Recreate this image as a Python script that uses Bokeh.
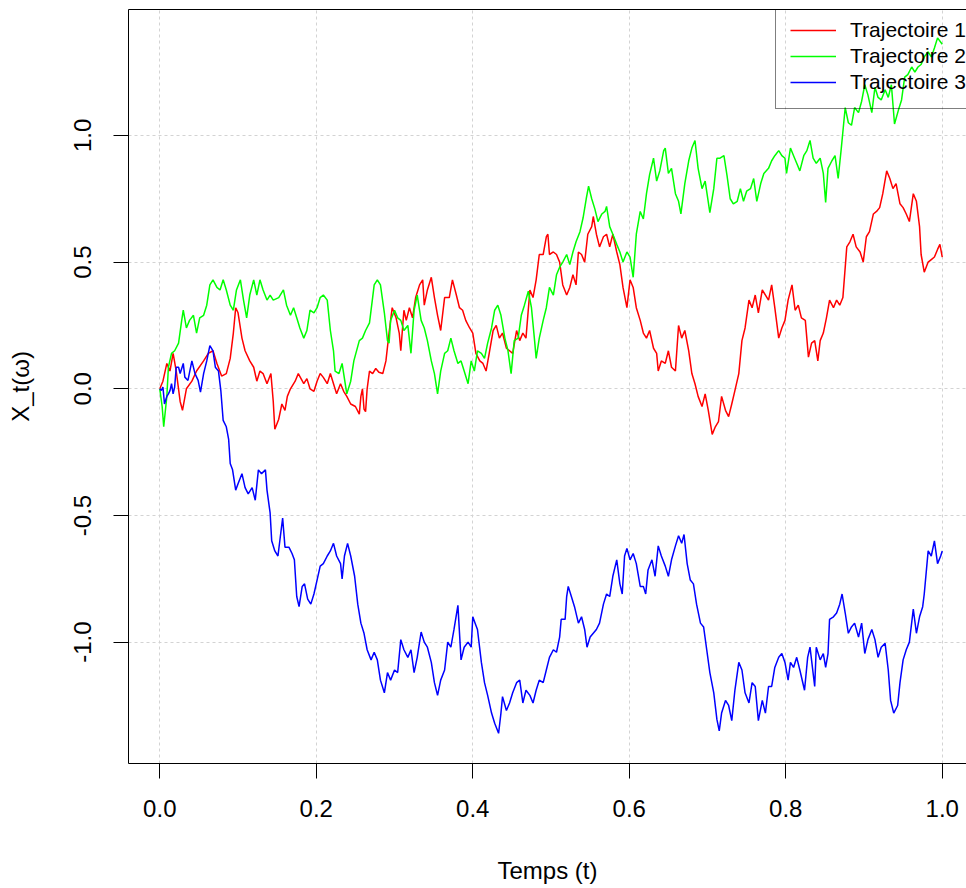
from bokeh.plotting import figure
from bokeh.models import (Range1d, FixedTicker, PrintfTickFormatter, LinearAxis,
                          Legend, LegendItem)
from bokeh.embed import file_html
from bokeh.resources import INLINE

# ---------------- data ----------------
series_names = ["Trajectoire 1", "Trajectoire 2", "Trajectoire 3"]
series_colors = ["#FF0000", "#00FF00", "#0000FF"]

t_1 = [0.000, 0.004, 0.009, 0.013, 0.017, 0.021, 0.026, 0.029, 0.034, 0.041, 0.047, 0.056,
       0.062, 0.068, 0.073, 0.079, 0.085, 0.090, 0.094, 0.097, 0.100, 0.105, 0.109, 0.115,
       0.120, 0.124, 0.128, 0.132, 0.137, 0.142, 0.145, 0.147, 0.152, 0.156, 0.160, 0.163,
       0.167, 0.173, 0.177, 0.184, 0.188, 0.192, 0.197, 0.201, 0.205, 0.209, 0.214, 0.218,
       0.222, 0.226, 0.231, 0.235, 0.239, 0.244, 0.250, 0.255, 0.257, 0.259, 0.261, 0.263,
       0.265, 0.268, 0.272, 0.276, 0.280, 0.285, 0.289, 0.293, 0.297, 0.302, 0.306, 0.308,
       0.312, 0.315, 0.319, 0.323, 0.327, 0.332, 0.336, 0.338, 0.342, 0.347, 0.351, 0.355,
       0.359, 0.364, 0.370, 0.374, 0.379, 0.383, 0.387, 0.391, 0.396, 0.400, 0.404, 0.409,
       0.413, 0.417, 0.421, 0.426, 0.430, 0.434, 0.438, 0.443, 0.447, 0.451, 0.456, 0.460,
       0.464, 0.468, 0.473, 0.477, 0.481, 0.485, 0.490, 0.494, 0.496, 0.498, 0.503, 0.507,
       0.511, 0.515, 0.520, 0.524, 0.528, 0.532, 0.535, 0.539, 0.543, 0.547, 0.552, 0.554,
       0.558, 0.562, 0.567, 0.571, 0.575, 0.579, 0.584, 0.588, 0.592, 0.597, 0.601, 0.605,
       0.609, 0.614, 0.618, 0.622, 0.626, 0.631, 0.635, 0.637, 0.641, 0.646, 0.650, 0.654,
       0.659, 0.663, 0.667, 0.671, 0.676, 0.680, 0.684, 0.688, 0.693, 0.697, 0.701, 0.706,
       0.710, 0.714, 0.718, 0.723, 0.727, 0.731, 0.735, 0.740, 0.744, 0.748, 0.753, 0.757,
       0.761, 0.765, 0.770, 0.778, 0.782, 0.786, 0.791, 0.795, 0.799, 0.803, 0.808, 0.812,
       0.816, 0.820, 0.825, 0.829, 0.833, 0.837, 0.841, 0.844, 0.848, 0.852, 0.856, 0.861,
       0.865, 0.869, 0.873, 0.878, 0.882, 0.886, 0.890, 0.895, 0.899, 0.903, 0.907, 0.912,
       0.916, 0.920, 0.924, 0.929, 0.933, 0.937, 0.941, 0.946, 0.950, 0.954, 0.958, 0.963,
       0.967, 0.971, 0.973, 0.977, 0.982, 0.986, 0.990, 0.994, 0.997, 1.000]
x_1 = [0.000, 0.030, 0.100, 0.070, 0.140, 0.070, -0.050, -0.085, 0.000, 0.030, 0.070, 0.110,
       0.140, 0.150, 0.100, 0.050, 0.060, 0.120, 0.220, 0.320, 0.300, 0.200, 0.150, 0.110,
       0.085, 0.030, 0.070, 0.060, 0.020, 0.060, -0.050, -0.160, -0.120, -0.060, -0.085, -0.030,
       0.000, 0.030, 0.060, 0.020, 0.040, 0.000, -0.010, 0.030, 0.060, 0.045, 0.020, 0.060,
       0.020, -0.020, 0.020, -0.010, -0.030, -0.060, -0.070, -0.100, -0.030, 0.000, -0.080, -0.090,
       0.000, 0.070, 0.060, 0.080, 0.065, 0.060, 0.110, 0.220, 0.320, 0.280, 0.220, 0.150,
       0.310, 0.270, 0.320, 0.280, 0.360, 0.410, 0.430, 0.330, 0.390, 0.440, 0.360, 0.290,
       0.230, 0.360, 0.360, 0.430, 0.370, 0.320, 0.310, 0.270, 0.240, 0.220, 0.140, 0.110,
       0.100, 0.070, 0.140, 0.230, 0.250, 0.200, 0.220, 0.160, 0.150, 0.140, 0.230, 0.190,
       0.220, 0.200, 0.390, 0.360, 0.430, 0.530, 0.530, 0.600, 0.610, 0.530, 0.540, 0.530,
       0.500, 0.410, 0.370, 0.400, 0.450, 0.410, 0.540, 0.530, 0.500, 0.610, 0.640, 0.680,
       0.610, 0.560, 0.600, 0.610, 0.560, 0.610, 0.540, 0.490, 0.400, 0.320, 0.430, 0.400,
       0.320, 0.270, 0.220, 0.200, 0.230, 0.160, 0.140, 0.070, 0.110, 0.100, 0.150, 0.085,
       0.070, 0.250, 0.200, 0.230, 0.150, 0.060, 0.020, -0.030, -0.070, -0.020, -0.085, -0.180,
       -0.150, -0.130, -0.030, -0.085, -0.110, -0.060, -0.007, 0.060, 0.190, 0.240, 0.350, 0.320,
       0.370, 0.300, 0.390, 0.350, 0.410, 0.320, 0.200, 0.240, 0.270, 0.350, 0.410, 0.310,
       0.330, 0.280, 0.270, 0.125, 0.180, 0.190, 0.110, 0.190, 0.220, 0.280, 0.350, 0.320,
       0.350, 0.330, 0.360, 0.560, 0.580, 0.610, 0.560, 0.540, 0.500, 0.600, 0.620, 0.690,
       0.700, 0.715, 0.770, 0.860, 0.830, 0.790, 0.810, 0.730, 0.715, 0.690, 0.660, 0.770,
       0.740, 0.640, 0.530, 0.460, 0.500, 0.510, 0.520, 0.550, 0.570, 0.520]

t_2 = [0.000, 0.003, 0.005, 0.009, 0.011, 0.015, 0.019, 0.024, 0.028, 0.030, 0.034, 0.038,
       0.043, 0.047, 0.051, 0.056, 0.060, 0.064, 0.068, 0.073, 0.077, 0.081, 0.085, 0.090,
       0.094, 0.098, 0.103, 0.107, 0.111, 0.115, 0.120, 0.124, 0.128, 0.132, 0.137, 0.141,
       0.145, 0.152, 0.158, 0.162, 0.167, 0.171, 0.175, 0.179, 0.184, 0.188, 0.192, 0.197,
       0.201, 0.205, 0.209, 0.214, 0.218, 0.222, 0.224, 0.229, 0.233, 0.235, 0.239, 0.244,
       0.248, 0.255, 0.259, 0.263, 0.268, 0.272, 0.274, 0.278, 0.282, 0.287, 0.291, 0.293,
       0.295, 0.300, 0.304, 0.308, 0.312, 0.317, 0.321, 0.325, 0.329, 0.334, 0.338, 0.342,
       0.347, 0.351, 0.355, 0.359, 0.364, 0.368, 0.372, 0.376, 0.381, 0.385, 0.389, 0.394,
       0.398, 0.402, 0.406, 0.411, 0.415, 0.419, 0.424, 0.428, 0.432, 0.436, 0.441, 0.445,
       0.449, 0.453, 0.458, 0.462, 0.466, 0.471, 0.475, 0.479, 0.481, 0.485, 0.490, 0.494,
       0.498, 0.503, 0.507, 0.511, 0.515, 0.520, 0.524, 0.528, 0.532, 0.537, 0.541, 0.545,
       0.548, 0.552, 0.556, 0.560, 0.565, 0.569, 0.571, 0.575, 0.579, 0.584, 0.588, 0.592,
       0.597, 0.601, 0.605, 0.609, 0.614, 0.618, 0.622, 0.626, 0.631, 0.635, 0.639, 0.644,
       0.646, 0.650, 0.654, 0.659, 0.663, 0.666, 0.671, 0.676, 0.680, 0.684, 0.688, 0.693,
       0.697, 0.703, 0.708, 0.712, 0.716, 0.721, 0.725, 0.729, 0.733, 0.738, 0.742, 0.746,
       0.750, 0.755, 0.759, 0.763, 0.768, 0.772, 0.778, 0.782, 0.786, 0.791, 0.795, 0.799,
       0.801, 0.806, 0.810, 0.814, 0.818, 0.823, 0.827, 0.831, 0.835, 0.839, 0.844, 0.848,
       0.851, 0.854, 0.859, 0.863, 0.867, 0.871, 0.876, 0.880, 0.884, 0.888, 0.893, 0.897,
       0.901, 0.905, 0.910, 0.914, 0.918, 0.922, 0.927, 0.931, 0.935, 0.939, 0.944, 0.948,
       0.952, 0.956, 0.961, 0.965, 0.969, 0.973, 0.977, 0.982, 0.986, 0.990, 0.994, 1.000]
x_2 = [0.000, -0.070, -0.150, -0.030, 0.085, 0.140, 0.150, 0.180, 0.270, 0.310, 0.240, 0.270,
       0.290, 0.220, 0.280, 0.290, 0.330, 0.410, 0.430, 0.400, 0.390, 0.430, 0.390, 0.330,
       0.310, 0.390, 0.430, 0.350, 0.280, 0.370, 0.430, 0.370, 0.430, 0.390, 0.350, 0.370,
       0.350, 0.360, 0.390, 0.330, 0.290, 0.320, 0.280, 0.240, 0.200, 0.230, 0.310, 0.300,
       0.320, 0.360, 0.370, 0.350, 0.230, 0.150, 0.070, 0.060, 0.100, 0.060, -0.020, 0.030,
       0.110, 0.190, 0.200, 0.230, 0.260, 0.360, 0.410, 0.430, 0.410, 0.300, 0.190, 0.180,
       0.270, 0.310, 0.280, 0.270, 0.230, 0.250, 0.140, 0.310, 0.370, 0.270, 0.240, 0.190,
       0.110, 0.060, -0.020, 0.070, 0.140, 0.150, 0.200, 0.150, 0.100, 0.110, 0.070, 0.020,
       0.110, 0.070, 0.150, 0.140, 0.120, 0.180, 0.240, 0.310, 0.330, 0.290, 0.200, 0.150,
       0.060, 0.190, 0.200, 0.290, 0.330, 0.385, 0.320, 0.190, 0.120, 0.200, 0.270, 0.320,
       0.400, 0.370, 0.450, 0.480, 0.500, 0.530, 0.490, 0.540, 0.580, 0.620, 0.675, 0.750,
       0.800, 0.750, 0.710, 0.660, 0.690, 0.700, 0.720, 0.640, 0.610, 0.570, 0.540, 0.500,
       0.540, 0.520, 0.440, 0.610, 0.700, 0.670, 0.770, 0.845, 0.910, 0.820, 0.860, 0.940,
       0.950, 0.850, 0.870, 0.770, 0.740, 0.690, 0.810, 0.900, 0.950, 0.980, 0.870, 0.790,
       0.820, 0.695, 0.790, 0.910, 0.910, 0.920, 0.840, 0.750, 0.730, 0.740, 0.790, 0.740,
       0.780, 0.790, 0.830, 0.740, 0.810, 0.850, 0.870, 0.900, 0.920, 0.940, 0.920, 0.910,
       0.850, 0.950, 0.920, 0.890, 0.860, 0.920, 0.940, 0.980, 0.910, 0.890, 0.910, 0.850,
       0.735, 0.870, 0.900, 0.920, 0.830, 0.950, 1.110, 1.050, 1.040, 1.110, 1.090, 1.135,
       1.200, 1.160, 1.090, 1.190, 1.150, 1.140, 1.180, 1.150, 1.200, 1.045, 1.100, 1.140,
       1.230, 1.240, 1.270, 1.250, 1.270, 1.280, 1.310, 1.330, 1.310, 1.345, 1.385, 1.360]

t_3 = [0.000, 0.002, 0.004, 0.006, 0.009, 0.011, 0.013, 0.015, 0.017, 0.019, 0.021, 0.024,
       0.026, 0.030, 0.032, 0.036, 0.041, 0.045, 0.049, 0.052, 0.056, 0.060, 0.064, 0.068,
       0.071, 0.075, 0.078, 0.081, 0.085, 0.088, 0.090, 0.093, 0.097, 0.100, 0.105, 0.109,
       0.113, 0.118, 0.122, 0.126, 0.130, 0.135, 0.137, 0.141, 0.143, 0.147, 0.151, 0.154,
       0.157, 0.160, 0.165, 0.169, 0.172, 0.175, 0.178, 0.182, 0.185, 0.189, 0.193, 0.197,
       0.201, 0.205, 0.209, 0.214, 0.218, 0.222, 0.226, 0.231, 0.233, 0.236, 0.240, 0.244,
       0.249, 0.253, 0.257, 0.261, 0.265, 0.270, 0.274, 0.278, 0.282, 0.287, 0.291, 0.295,
       0.300, 0.304, 0.308, 0.312, 0.317, 0.321, 0.325, 0.329, 0.334, 0.338, 0.342, 0.347,
       0.351, 0.355, 0.359, 0.364, 0.368, 0.372, 0.376, 0.381, 0.385, 0.389, 0.394, 0.398,
       0.400, 0.403, 0.406, 0.411, 0.415, 0.419, 0.424, 0.428, 0.433, 0.436, 0.438, 0.443,
       0.447, 0.451, 0.456, 0.460, 0.464, 0.468, 0.473, 0.477, 0.481, 0.485, 0.490, 0.494,
       0.498, 0.503, 0.507, 0.511, 0.513, 0.518, 0.520, 0.522, 0.526, 0.530, 0.535, 0.539,
       0.543, 0.546, 0.550, 0.554, 0.558, 0.562, 0.567, 0.571, 0.575, 0.579, 0.584, 0.588,
       0.591, 0.594, 0.597, 0.601, 0.605, 0.609, 0.614, 0.618, 0.621, 0.624, 0.629, 0.633,
       0.637, 0.641, 0.646, 0.650, 0.654, 0.659, 0.663, 0.667, 0.670, 0.674, 0.678, 0.682,
       0.686, 0.691, 0.695, 0.699, 0.703, 0.708, 0.712, 0.715, 0.718, 0.723, 0.727, 0.731,
       0.735, 0.740, 0.744, 0.748, 0.753, 0.757, 0.761, 0.765, 0.770, 0.774, 0.778, 0.782,
       0.786, 0.791, 0.795, 0.799, 0.803, 0.806, 0.810, 0.814, 0.818, 0.824, 0.828, 0.831,
       0.837, 0.839, 0.844, 0.848, 0.851, 0.854, 0.856, 0.861, 0.865, 0.869, 0.872, 0.876,
       0.880, 0.884, 0.888, 0.893, 0.897, 0.901, 0.905, 0.910, 0.914, 0.918, 0.922, 0.927,
       0.931, 0.934, 0.938, 0.943, 0.946, 0.950, 0.954, 0.958, 0.963, 0.967, 0.971, 0.975,
       0.977, 0.982, 0.986, 0.990, 0.994, 0.998, 1.000]
x_3 = [0.000, -0.007, 0.007, -0.060, -0.030, -0.020, -0.007, 0.020, -0.020, 0.007, 0.085, 0.085,
       0.060, 0.100, 0.046, 0.033, 0.110, 0.060, 0.033, -0.013, 0.060, 0.110, 0.170, 0.150,
       0.085, 0.070, -0.007, -0.125, -0.150, -0.200, -0.295, -0.320, -0.400, -0.375, -0.335, -0.390,
       -0.415, -0.390, -0.440, -0.320, -0.335, -0.320, -0.400, -0.490, -0.600, -0.640, -0.660, -0.585,
       -0.510, -0.625, -0.625, -0.650, -0.675, -0.820, -0.860, -0.780, -0.770, -0.830, -0.850, -0.810,
       -0.755, -0.700, -0.690, -0.660, -0.640, -0.610, -0.660, -0.690, -0.750, -0.660, -0.610, -0.660,
       -0.740, -0.850, -0.925, -0.965, -1.030, -1.070, -1.040, -1.070, -1.150, -1.200, -1.120, -1.150,
       -1.110, -1.120, -0.990, -1.030, -1.060, -1.030, -1.120, -1.060, -0.960, -1.000, -1.020, -1.080,
       -1.160, -1.210, -1.150, -1.110, -1.000, -1.020, -0.950, -0.855, -1.070, -1.020, -1.000, -1.020,
       -0.900, -0.925, -0.950, -1.080, -1.160, -1.210, -1.280, -1.320, -1.360, -1.280, -1.215, -1.270,
       -1.240, -1.200, -1.160, -1.150, -1.240, -1.190, -1.210, -1.240, -1.190, -1.150, -1.160, -1.110,
       -1.060, -1.030, -1.040, -0.980, -0.910, -0.910, -0.820, -0.780, -0.820, -0.860, -0.925, -0.900,
       -0.950, -1.020, -0.980, -0.965, -0.950, -0.925, -0.850, -0.810, -0.820, -0.740, -0.675, -0.770,
       -0.810, -0.660, -0.630, -0.675, -0.650, -0.690, -0.780, -0.780, -0.810, -0.715, -0.675, -0.740,
       -0.620, -0.660, -0.700, -0.740, -0.675, -0.620, -0.580, -0.610, -0.575, -0.690, -0.755, -0.770,
       -0.850, -0.925, -0.940, -1.030, -1.120, -1.200, -1.305, -1.350, -1.280, -1.230, -1.250, -1.310,
       -1.190, -1.080, -1.110, -1.200, -1.240, -1.160, -1.175, -1.310, -1.230, -1.280, -1.175, -1.175,
       -1.100, -1.060, -1.045, -1.080, -1.150, -1.080, -1.100, -1.060, -1.110, -1.190, -1.060, -1.020,
       -1.175, -1.020, -1.070, -1.045, -1.100, -1.045, -0.910, -0.900, -0.885, -0.850, -0.810, -0.885,
       -0.965, -0.940, -0.925, -0.980, -0.925, -1.045, -0.990, -0.950, -0.990, -1.060, -1.020, -1.005,
       -1.110, -1.230, -1.280, -1.250, -1.160, -1.070, -1.030, -1.000, -0.870, -0.965, -0.900, -0.860,
       -0.810, -0.640, -0.660, -0.600, -0.690, -0.660, -0.640]

x_ticks = [0.0, 0.2, 0.4, 0.6, 0.8, 1.0]
y_ticks = [-1.0, -0.5, 0.0, 0.5, 1.0]
x_label = "Temps (t)"
y_label = "X_t(\u03c9)"

FONT = "Liberation Sans"

p = figure(width=966, height=888, output_backend="svg", toolbar_location=None,
           x_range=Range1d(-0.04, 1.031), y_range=Range1d(-1.479, 1.497),
           min_border_left=128, min_border_right=0, min_border_top=9, min_border_bottom=125)
p.title = None
p.outline_line_color = None
p.background_fill_color = "white"
p.border_fill_color = "white"

# axes
for ax in (p.xaxis[0], p.yaxis[0]):
    ax.ticker = FixedTicker(ticks=x_ticks if ax is p.xaxis[0] else y_ticks)
    ax.formatter = PrintfTickFormatter(format="%.1f")
    ax.axis_line_color = "black"
    ax.axis_line_width = 1
    ax.major_tick_line_color = "black"
    ax.major_tick_in = 0
    ax.major_tick_out = 15
    ax.minor_tick_line_color = None
    ax.major_label_text_font = FONT
    ax.major_label_text_font_size = "24px"
    ax.major_label_text_color = "black"
    ax.axis_label_text_font = FONT
    ax.axis_label_text_font_size = "24px"
    ax.axis_label_text_font_style = "normal"
    ax.axis_label_text_color = "black"

p.xaxis[0].axis_label = x_label
p.xaxis[0].major_label_standoff = 21
p.xaxis[0].axis_label_standoff = 37
p.yaxis[0].axis_label = y_label
p.yaxis[0].major_label_orientation = "vertical"
p.yaxis[0].major_label_standoff = 22
p.yaxis[0].axis_label_standoff = 38

# top border of the box
top = LinearAxis(ticker=FixedTicker(ticks=[]), axis_line_color="black",
                 major_tick_out=0, major_tick_in=0, minor_tick_out=0, minor_tick_in=0,
                 major_tick_line_color=None, minor_tick_line_color=None,
                 major_label_text_font_size="0px", major_label_standoff=0,
                 axis_label_standoff=0)
p.add_layout(top, "above")

# grid
p.xgrid[0].ticker = FixedTicker(ticks=x_ticks)
p.ygrid[0].ticker = FixedTicker(ticks=y_ticks)
for g in (p.xgrid[0], p.ygrid[0]):
    g.grid_line_color = "#d3d3d3"
    g.grid_line_dash = "3 3"
    g.grid_line_width = 1

renderers = []
for t, x, c in zip([t_1, t_2, t_3], [x_1, x_2, x_3], series_colors):
    r = p.line(t, x, line_color=c, line_width=1.5)
    renderers.append(r)

legend = Legend(items=[LegendItem(label=n, renderers=[r]) for n, r in zip(series_names, renderers)],
                location=(647, 654), orientation="vertical",
                label_text_font=FONT, label_text_font_size="21px", label_text_color="black",
                glyph_width=46, glyph_height=20, label_standoff=14, label_height=20,
                spacing=2, padding=14, margin=0,
                border_line_color="black", border_line_width=1,
                background_fill_alpha=0.0)
p.add_layout(legend, "center")

open("out.html", "w").write(file_html(p, INLINE))
